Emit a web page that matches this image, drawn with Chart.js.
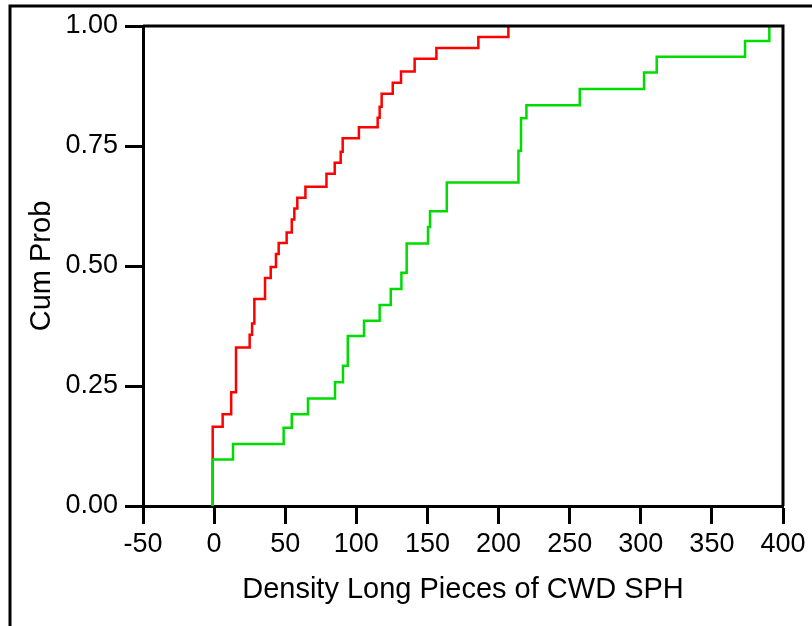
<!DOCTYPE html>
<html>
<head>
<meta charset="utf-8">
<script src="https://cdn.jsdelivr.net/npm/chart.js@4.4.1/dist/chart.umd.min.js"></script>
<style>
  html, body { margin: 0; padding: 0; background: #fff; }
  #wrap { width: 812px; height: 626px; }
</style>
</head>
<body>
<div id="wrap"><canvas id="cdf-chart" width="812" height="626"></canvas></div>
<script>
// step points: x = density, y = cumulative probability
const redX = [-1, -1, 6, 12, 15.4, 25, 26.7, 28.3, 35.8, 39.8, 43.5, 45.4, 51, 54.6, 56.4, 58.5,
  64.2, 79, 84.8, 89, 90.4, 101.8, 115, 116.4, 117.8, 125.6, 131.4, 141, 156.3, 185.8, 206.9];
const redY = [0, 0.165, 0.191, 0.237, 0.330, 0.357, 0.380, 0.431, 0.475, 0.498, 0.525, 0.548, 0.570, 0.597, 0.620, 0.642,
  0.665, 0.692, 0.715, 0.738, 0.766, 0.789, 0.809, 0.832, 0.859, 0.882, 0.905, 0.932, 0.954, 0.977, 1.0];

const greenX = [-1, -1, 13.3, 48.9, 54.6, 66, 85, 90.6, 94, 105.4, 116.4, 124.2, 131.7, 135.4, 150.4, 151.8,
  163.6, 214, 215.8, 219.6, 257.1, 302.3, 311.2, 373.3, 390.4];
const greenY = [0, 0.097, 0.129, 0.163, 0.191, 0.224, 0.258, 0.292, 0.354, 0.386, 0.419, 0.452, 0.486, 0.547, 0.581, 0.614,
  0.674, 0.740, 0.808, 0.835, 0.869, 0.903, 0.936, 0.969, 1.0];

const xTicks = [-50, 0, 50, 100, 150, 200, 250, 300, 350, 400];
const yTicks = [0, 0.25, 0.5, 0.75, 1];

function toPoints(xs, ys) {
    return xs.map((x, i) => ({ x: x, y: ys[i] }));
}

// box round the plot area plus the outer figure frame
const framePlugin = {
    id: 'frame',
    afterDraw(chart) {
        const { ctx, chartArea } = chart;
        ctx.save();
        ctx.strokeStyle = '#000';
        ctx.lineWidth = 3;
        ctx.beginPath();
        ctx.moveTo(chartArea.left, chartArea.top);
        ctx.lineTo(chartArea.right, chartArea.top);
        ctx.lineTo(chartArea.right, chartArea.bottom);
        ctx.stroke();
        ctx.beginPath();
        ctx.moveTo(10, 626);
        ctx.lineTo(10, 6);
        ctx.lineTo(812, 6);
        ctx.stroke();
        ctx.restore();
    }
};

const tickFont = { family: 'Liberation Sans, Arial, sans-serif', size: 27 };
const titleFont = { family: 'Liberation Sans, Arial, sans-serif', size: 29 };

new Chart(document.querySelector('#cdf-chart').getContext('2d'), {
    type: 'line',
    data: {
        datasets: [
            {
                label: 'green',
                data: toPoints(greenX, greenY),
                borderColor: 'rgb(0, 220, 0)',
                borderWidth: 2.5,
                pointRadius: 0,
                stepped: 'before',
                fill: false
            },
            {
                label: 'red',
                data: toPoints(redX, redY),
                borderColor: 'rgb(255, 0, 0)',
                borderWidth: 2.5,
                pointRadius: 0,
                stepped: 'before',
                fill: false
            }
        ]
    },
    options: {
        responsive: false,
        animation: false,
        layout: { padding: { top: 26, right: 29, left: 0, bottom: 0 } },
        plugins: { legend: { display: false }, tooltip: { enabled: false } },
        scales: {
            x: {
                type: 'linear',
                min: -50,
                max: 400,
                afterBuildTicks: scale => { scale.ticks = xTicks.map(v => ({ value: v })); },
                afterFit: scale => { scale.height = 120; },
                ticks: { color: '#000', font: tickFont, padding: 4, maxRotation: 0 },
                grid: { drawOnChartArea: false, drawTicks: true, tickLength: 18, tickWidth: 3, tickColor: '#000' },
                border: { display: true, color: '#000', width: 3 },
                title: { display: true, text: 'Density Long Pieces of CWD SPH', color: '#000', font: titleFont, padding: { bottom: 19 } }
            },
            y: {
                min: 0,
                max: 1,
                afterBuildTicks: scale => { scale.ticks = yTicks.map(v => ({ value: v })); },
                afterFit: scale => { scale.width = 143; },
                ticks: { color: '#000', font: tickFont, padding: 7, callback: v => v.toFixed(2) },
                grid: { drawOnChartArea: false, drawTicks: true, tickLength: 18, tickWidth: 3, tickColor: '#000' },
                border: { display: true, color: '#000', width: 3 },
                title: { display: true, text: 'Cum Prob', color: '#000', font: titleFont, padding: { top: 25 } }
            }
        }
    },
    plugins: [framePlugin]
});
</script>
</body>
</html>
